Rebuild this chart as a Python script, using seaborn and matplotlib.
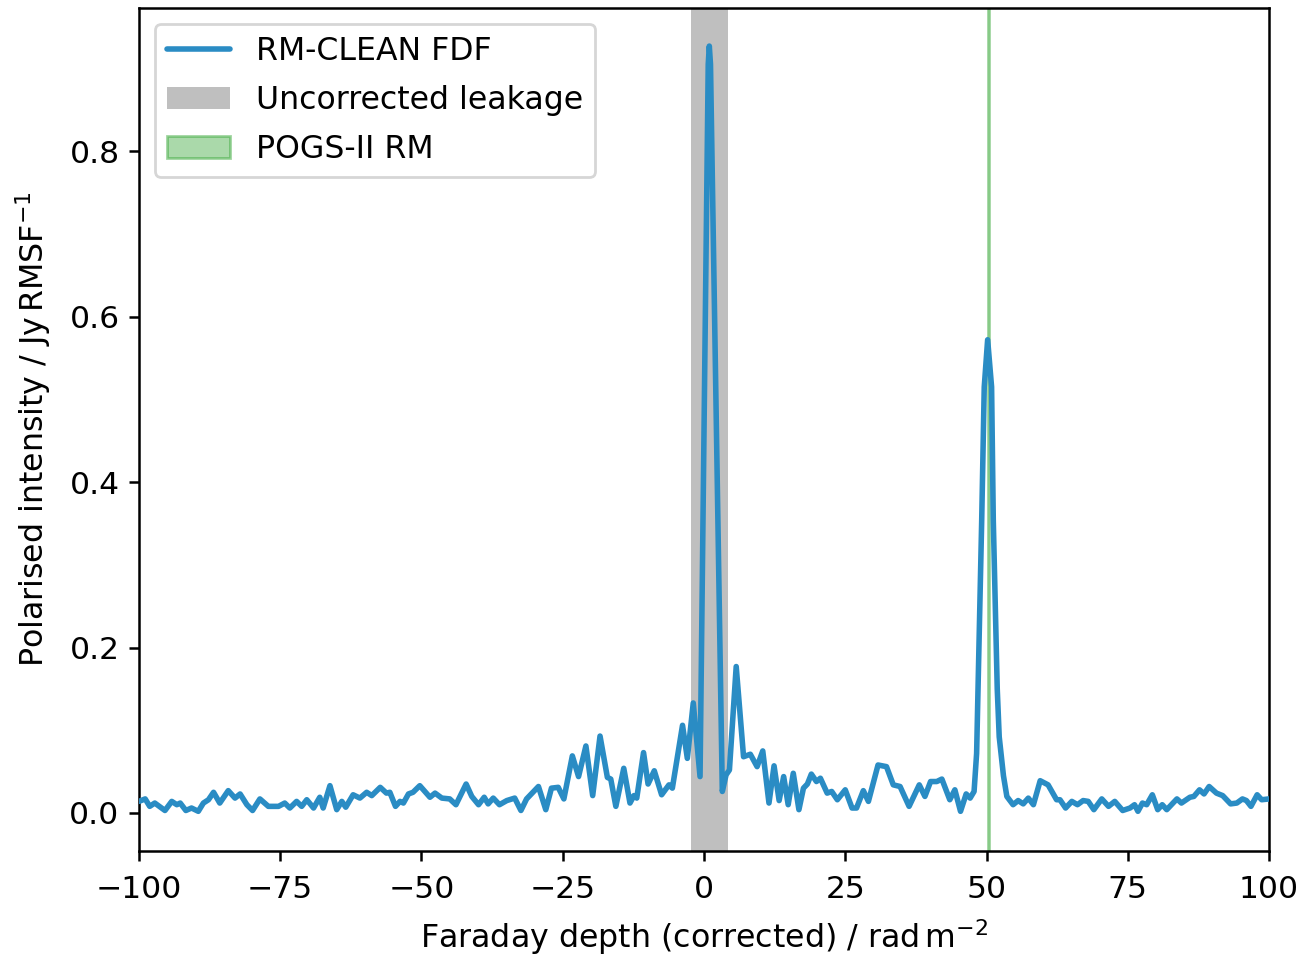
import numpy as np
import pandas as pd
import matplotlib
matplotlib.use("Agg")
import matplotlib.pyplot as plt
import matplotlib.patches as mpatches
import matplotlib.lines as mlines
import seaborn as sns

# Faraday depth (rad m^-2) and polarised intensity (Jy RMSF^-1)
phi = [
    -100.0, -98.9, -98.1, -97.2, -95.4, -94.2, -93.3, -92.7, -91.7, -90.7,
    -89.5, -88.6, -87.7, -86.8, -85.7, -84.2, -83.0, -82.1, -80.9, -79.9,
    -78.6, -77.1, -75.3, -74.2, -73.3, -72.1, -71.2, -70.3, -69.1, -68.0,
    -67.4, -66.2, -65.0, -64.1, -63.4, -62.1, -60.9, -59.7, -58.8, -57.3,
    -56.2, -55.6, -54.6, -53.8, -53.2, -52.3, -51.5, -50.3, -48.5, -47.6,
    -46.4, -45.0, -43.9, -42.1, -41.1, -39.9, -38.9, -38.2, -37.3, -36.2,
    -34.9, -33.5, -32.4, -31.4, -29.3, -28.0, -27.0, -25.8, -24.8, -23.3,
    -22.2, -20.9, -19.7, -18.4, -17.1, -16.5, -15.6, -14.2, -13.1, -12.4,
    -11.9, -10.7, -9.9, -8.8, -7.5, -6.2, -5.6, -3.8, -2.95, -1.9,
    -0.7, 0.75, 0.94, 1.15, 3.24, 3.9, 4.5, 5.7, 7.0, 8.2,
    9.4, 10.4, 11.5, 12.4, 13.3, 14.1, 14.9, 15.8, 16.8, 17.6,
    18.3, 19.0, 19.9, 20.6, 21.8, 22.6, 23.6, 25.0, 26.2, 27.0,
    28.2, 29.1, 30.8, 32.3, 33.5, 34.7, 36.3, 38.1, 39.1, 40.1,
    41.2, 42.1, 43.5, 44.4, 45.4, 46.4, 47.1, 47.8, 48.25, 49.15,
    49.6, 50.2, 50.9, 51.2, 51.9, 52.25, 53.0, 53.6, 54.7, 55.6,
    56.5, 57.4, 58.3, 59.5, 60.9, 62.4, 63.0, 64.0, 65.1, 66.1,
    67.1, 68.0, 69.0, 70.4, 71.6, 72.7, 74.1, 75.4, 76.2, 76.8,
    77.6, 78.35, 79.35, 80.3, 81.1, 81.9, 83.7, 84.5, 86.0, 86.7,
    87.7, 88.5, 89.4, 90.7, 91.8, 93.2, 94.3, 95.3, 96.0, 96.8,
    97.9, 98.7, 100.0,
]
intensity = [
    0.014, 0.017, 0.008, 0.012, 0.003, 0.014, 0.010, 0.012, 0.003, 0.006,
    0.002, 0.012, 0.016, 0.025, 0.012, 0.027, 0.018, 0.023, 0.010, 0.003,
    0.017, 0.008, 0.008, 0.012, 0.006, 0.014, 0.008, 0.016, 0.006, 0.019,
    0.006, 0.033, 0.004, 0.014, 0.007, 0.022, 0.018, 0.025, 0.021, 0.031,
    0.024, 0.025, 0.008, 0.014, 0.012, 0.023, 0.025, 0.033, 0.019, 0.024,
    0.018, 0.017, 0.010, 0.035, 0.020, 0.010, 0.019, 0.011, 0.018, 0.010,
    0.015, 0.018, 0.003, 0.017, 0.032, 0.004, 0.030, 0.031, 0.017, 0.069,
    0.044, 0.081, 0.021, 0.093, 0.043, 0.041, 0.008, 0.054, 0.012, 0.021,
    0.018, 0.073, 0.035, 0.051, 0.022, 0.034, 0.030, 0.106, 0.066, 0.133,
    0.044, 0.905, 0.927, 0.905, 0.026, 0.046, 0.052, 0.177, 0.068, 0.071,
    0.056, 0.075, 0.012, 0.057, 0.015, 0.044, 0.010, 0.048, 0.004, 0.030,
    0.035, 0.047, 0.038, 0.042, 0.024, 0.026, 0.016, 0.028, 0.006, 0.006,
    0.027, 0.014, 0.058, 0.056, 0.034, 0.032, 0.008, 0.034, 0.020, 0.038,
    0.038, 0.041, 0.016, 0.028, 0.002, 0.023, 0.018, 0.026, 0.072, 0.354,
    0.515, 0.572, 0.515, 0.354, 0.150, 0.092, 0.045, 0.020, 0.010, 0.015,
    0.011, 0.018, 0.010, 0.039, 0.034, 0.016, 0.016, 0.006, 0.014, 0.010,
    0.015, 0.014, 0.004, 0.017, 0.008, 0.014, 0.003, 0.006, 0.010, 0.002,
    0.012, 0.010, 0.022, 0.004, 0.010, 0.004, 0.017, 0.012, 0.019, 0.020,
    0.028, 0.023, 0.032, 0.024, 0.021, 0.011, 0.012, 0.017, 0.015, 0.008,
    0.022, 0.016, 0.017,
]
leakage_range = [-2.35, 4.3]
pogs_rm_range = [50.28, 50.46]

x_ticks = [-100, -75, -50, -25, 0, 25, 50, 75, 100]
y_ticks = [0.0, 0.2, 0.4, 0.6, 0.8]

sns.set_style("ticks")
plt.rcParams["font.family"] = ["DejaVu Sans"]
plt.rcParams["font.size"] = 11.4
for key in ["text.color", "axes.labelcolor", "xtick.color", "ytick.color",
            "axes.edgecolor"]:
    plt.rcParams[key] = "black"
plt.rcParams["xtick.direction"] = "out"
plt.rcParams["ytick.direction"] = "out"

df = pd.DataFrame({"phi": phi, "pi": intensity})

fig = plt.figure(figsize=(6.58, 4.78), dpi=200)
ax = fig.add_axes([0.1056, 0.1098, 0.8587, 0.8818])

line_color = "#2a8cc4"
green = (0.17, 0.63, 0.17)

ax.axvspan(leakage_range[0], leakage_range[1], color="grey", alpha=0.5, lw=0, zorder=1)
ax.axvspan(pogs_rm_range[0], pogs_rm_range[1], facecolor=green + (0.4,),
           edgecolor=green + (0.45,), lw=1.0, zorder=1)
sns.lineplot(data=df, x="phi", y="pi", ax=ax, color=line_color, lw=2.0,
             estimator=None, sort=False, zorder=3)
for ln in ax.lines:
    ln.set_solid_joinstyle("round")
    ln.set_solid_capstyle("round")

ax.set_xlim(-100, 100)
ax.set_ylim(-0.046, 0.973)
ax.set_xticks(x_ticks)
ax.set_yticks(y_ticks)
ax.set_xticklabels([f"{t:d}".replace("-", "\u2212") for t in x_ticks])
ax.set_yticklabels([f"{t:.1f}" for t in y_ticks])
for s in ax.spines.values():
    s.set_visible(True)
    s.set_color("black")
    s.set_linewidth(0.9)
ax.tick_params(colors="black", length=3.5, width=0.9, labelsize=11.3)
ax.tick_params(axis="x", pad=5.3)

ax.set_xlabel(r"Faraday depth (corrected) / rad$\,$m$^{-2}$", fontsize=11.4,
              labelpad=4.6)
ax.set_ylabel(r"Polarised intensity / Jy$\,$RMSF$^{-1}$", fontsize=11.4,
              labelpad=5.8)

h_line = mlines.Line2D([], [], color=line_color, lw=2.0, label="RM-CLEAN FDF")
h_leak = mpatches.Patch(facecolor="grey", alpha=0.5, lw=0, label="Uncorrected leakage")
h_pogs = mpatches.Patch(facecolor=green + (0.4,), edgecolor=green + (0.45,), lw=1.0,
                        label="POGS-II RM")
ax.legend(handles=[h_line, h_leak, h_pogs], loc="upper left", fontsize=11.35,
          frameon=True, framealpha=0.8, edgecolor="#cccccc", fancybox=True,
          labelspacing=0.56)

fig.savefig("out.png", dpi=200)
